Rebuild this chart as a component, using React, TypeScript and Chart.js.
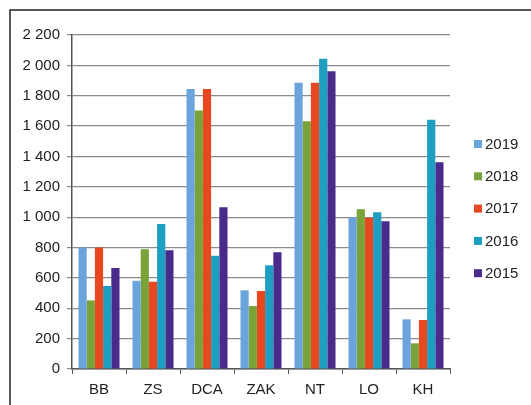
import React, { useEffect, useRef } from "react";
import { Chart, registerables } from "chart.js";

Chart.register(...registerables);

const categories = ["BB", "ZS", "DCA", "ZAK", "NT", "LO", "KH"];
const seriesNames = ["2019", "2018", "2017", "2016", "2015"];
const values2019 = [800, 582, 1845, 518, 1886, 999, 327];
const values2018 = [452, 788, 1702, 415, 1632, 1052, 169];
const values2017 = [800, 575, 1845, 514, 1886, 997, 323];
const values2016 = [547, 955, 746, 683, 2044, 1032, 1642];
const values2015 = [665, 782, 1065, 769, 1961, 973, 1362];
const seriesColors = ["#6ba3dc", "#79a338", "#e8481f", "#1e9fc2", "#4a2b8c"];
const yTicks = [0, 200, 400, 600, 800, 1000, 1200, 1400, 1600, 1800, 2000, 2200];

const FONT = "'Liberation Sans', Arial, sans-serif";

const framePlugin = {
  id: "frame",
  beforeDraw(chart: any) {
    const ctx = chart.ctx;
    ctx.save();
    ctx.fillStyle = "#ffffff";
    ctx.fillRect(0, 0, chart.width, chart.height);
    ctx.strokeStyle = "#222222";
    ctx.lineWidth = 1.5;
    ctx.beginPath();
    ctx.moveTo(10, chart.height);
    ctx.lineTo(10, 10);
    ctx.lineTo(chart.width, 10);
    ctx.stroke();
    ctx.restore();
  },
};

const legendPlugin = {
  id: "customLegend",
  afterDraw(chart: any) {
    const ctx = chart.ctx;
    ctx.save();
    ctx.font = `15px ${FONT}`;
    ctx.textBaseline = "middle";
    ctx.textAlign = "left";
    chart.data.datasets.forEach((ds: any, i: number) => {
      const y = 144 + i * 32.3;
      ctx.fillStyle = ds.backgroundColor;
      ctx.fillRect(474, y - 4, 8, 8);
      ctx.fillStyle = "#222222";
      ctx.fillText(ds.label, 485, y + 0.5);
    });
    ctx.restore();
  },
};

export default function App() {
  const ref = useRef<HTMLCanvasElement>(null);
  useEffect(() => {
    if (!ref.current) return;
    const allSeries = [values2019, values2018, values2017, values2016, values2015];
    const chart = new Chart(ref.current, {
      type: "bar",
      data: {
        labels: categories,
        datasets: allSeries.map((vals, i) => ({
          label: seriesNames[i],
          data: vals,
          backgroundColor: seriesColors[i],
          borderWidth: 0,
          barPercentage: 1,
          categoryPercentage: 0.76,
        })),
      },
      options: {
        responsive: false,
        animation: false,
        layout: { padding: { top: 35, right: 81, left: 0, bottom: 0 } },
        plugins: { legend: { display: false }, tooltip: { enabled: false } },
        scales: {
          x: {
            offset: true,
            grid: {
              offset: true,
              drawOnChartArea: false,
              drawTicks: true,
              tickLength: 5,
              color: "#555555",
            },
            border: { display: true, color: "#555555", width: 1.5 },
            ticks: {
              padding: 7,
              color: "#222222",
              font: { family: FONT, size: 15 },
            },
            afterFit(scale: any) {
              scale.height = 36;
            },
          },
          y: {
            min: 0,
            max: 2200,
            afterBuildTicks(scale: any) {
              scale.ticks = yTicks.map((v) => ({ value: v }));
            },
            grid: {
              color: "#8a8a8a",
              lineWidth: 1.2,
              drawTicks: true,
              tickLength: 5,
            },
            border: { display: true, color: "#555555", width: 1.5 },
            ticks: {
              padding: 7,
              color: "#222222",
              font: { family: FONT, size: 15 },
              callback: (v: any) =>
                String(v).replace(/\B(?=(\d{3})+(?!\d))/g, " "),
            },
            afterFit(scale: any) {
              scale.width = 72;
            },
          },
        },
      },
      plugins: [framePlugin, legendPlugin],
    });
    return () => chart.destroy();
  }, []);
  return (
    <div style={{ position: "absolute", left: 0, top: 0, width: 531, height: 405 }}>
      <canvas ref={ref} width={531} height={405} style={{ display: "block" }} />
    </div>
  );
}
